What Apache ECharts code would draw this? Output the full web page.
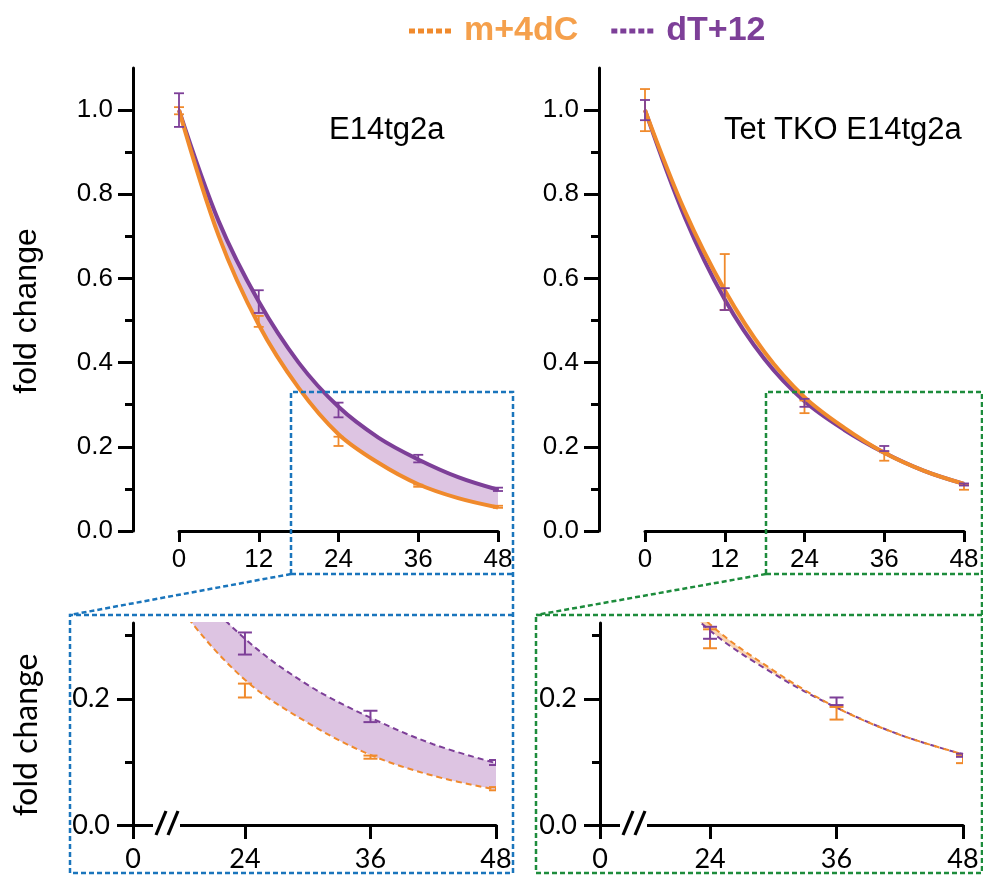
<!DOCTYPE html>
<html>
<head>
<meta charset="utf-8">
<title>fold change</title>
<script src="https://cdn.jsdelivr.net/npm/echarts@6/dist/echarts.min.js"></script>
<style>
    html, body { margin: 0; padding: 0; background: #fff; }
    #chart { width: 983px; height: 875px; }
</style>
</head>
<body>
<div id="chart"></div>
<script>
// ============================================
// Data
// ============================================
const hours = [0, 12, 24, 36, 48];
const curveHours = [0, 6, 12, 18, 24, 30, 36, 42, 48];

// E14tg2a
const wtMdcLow = [0.99, 0.485, 0.202, 0.105, 0.055];
const wtMdcHigh = [1.007, 0.511, 0.224, 0.110, 0.060];
const wtDtLow = [0.96, 0.518, 0.270, 0.163, 0.095];
const wtDtHigh = [1.04, 0.572, 0.305, 0.181, 0.103];
const wtMdcCurve = [1.0, 0.70, 0.49, 0.34, 0.23, 0.162, 0.111, 0.078, 0.056];
const wtDtCurve = [1.0, 0.735, 0.545, 0.40, 0.295, 0.222, 0.170, 0.128, 0.098];

// Tet TKO E14tg2a
const tkoMdcLow = [0.95, 0.525, 0.280, 0.167, 0.098];
const tkoMdcHigh = [1.05, 0.658, 0.310, 0.187, 0.111];
const tkoDtLow = [0.976, 0.525, 0.295, 0.190, 0.108];
const tkoDtHigh = [1.024, 0.577, 0.314, 0.202, 0.113];
const tkoMdcCurve = [1.0, 0.76, 0.572, 0.425, 0.318, 0.245, 0.186, 0.143, 0.112];
const tkoDtCurve = [1.0, 0.745, 0.55, 0.408, 0.308, 0.240, 0.186, 0.143, 0.112];

// Axis ticks
const fullXTicks = [0, 12, 24, 36, 48];
const fullYMajor = [0, 0.2, 0.4, 0.6, 0.8, 1.0];
const fullYMinor = [0.1, 0.3, 0.5, 0.7, 0.9];
const zoomXTicks = [24, 36, 48];
const zoomYMajor = [0, 0.2];
const zoomYMinor = [0.1, 0.3];

const seriesNames = ['m+4dC', 'dT+12'];

// ============================================
// Style
// ============================================
const ORANGE = '#f08a2c';
const ORANGE_TEXT = '#f5a04c';
const PURPLE = '#7d3f98';
const LAVENDER = '#ddc4e2';
const PEACH = '#f9d3b0';
const BLUE = '#1a75bc';
const GREEN = '#1d8c3c';
const SANS = '"Liberation Sans", Arial, sans-serif';
const ZOOM_FONT = 'Lato, "Open Sans", sans-serif';

// panel geometry
const topGrids = [{ left: 179 }, { left: 645 }];
const bottomGrids = [{ left: 133, zoomMin: 13.3 }, { left: 600, zoomMin: 13.56 }];

// ============================================
// Helpers
// ============================================
const pairs = (xs, ys) => xs.map((x, i) => [x, ys[i]]);
const bars = (lo, hi) => hours.map((h, i) => [h, lo[i], hi[i]]);

function errorBar(capHalf, color, width) {
    return function (params, api) {
        const x = api.value(0);
        const lo = api.coord([x, api.value(1)]);
        const hi = api.coord([x, api.value(2)]);
        const style = { stroke: color, lineWidth: width };
        return {
            type: 'group',
            children: [
                { type: 'line', shape: { x1: lo[0], y1: lo[1], x2: hi[0], y2: hi[1] }, style },
                { type: 'line', shape: { x1: lo[0] - capHalf, y1: lo[1], x2: lo[0] + capHalf, y2: lo[1] }, style },
                { type: 'line', shape: { x1: hi[0] - capHalf, y1: hi[1], x2: hi[0] + capHalf, y2: hi[1] }, style }
            ]
        };
    };
}

const axisLine = { show: true, onZero: false, lineStyle: { color: '#000', width: 3 } };
const noLine = { show: false, onZero: false };

function panelSeries(g, mdcCurve, dtCurve, mdcBar, dtBar, fill, zoomed) {
    // band between the two fits: stacked on y (data given as [y, x] so y is the stacked dim)
    const lower = curveHours.map((h, i) => [Math.min(mdcCurve[i], dtCurve[i]), h]);
    const diff = curveHours.map((h, i) => [Math.abs(mdcCurve[i] - dtCurve[i]), h]);
    const common = { xAxisIndex: g, yAxisIndex: 2 * g, symbol: 'none', smooth: 0.35, animation: false };
    const lineStyle = zoomed
        ? { width: 2, type: [6, 4] }
        : { width: 4 };
    const cap = zoomed ? 7 : 5;
    const barWidth = zoomed ? 2 : 1.8;
    return [
        { ...common, type: 'line', stack: 'band' + g, data: lower, encode: { x: 1, y: 0 },
          lineStyle: { opacity: 0 }, silent: true },
        { ...common, type: 'line', stack: 'band' + g, data: diff, encode: { x: 1, y: 0 },
          lineStyle: { opacity: 0 }, areaStyle: { color: fill, opacity: 1 }, silent: true },
        { ...common, type: 'line', name: seriesNames[1], data: pairs(curveHours, dtCurve),
          itemStyle: { color: PURPLE }, lineStyle: { ...lineStyle, color: PURPLE } },
        { ...common, type: 'line', name: seriesNames[0], data: pairs(curveHours, mdcCurve),
          itemStyle: { color: ORANGE }, lineStyle: { ...lineStyle, color: ORANGE } },
        { type: 'custom', xAxisIndex: g, yAxisIndex: 2 * g, clip: zoomed, animation: false,
          renderItem: errorBar(cap, ORANGE, barWidth), data: mdcBar, encode: { x: 0, y: [1, 2] }, z: 5 },
        { type: 'custom', xAxisIndex: g, yAxisIndex: 2 * g, clip: zoomed, animation: false,
          renderItem: errorBar(cap, PURPLE, barWidth), data: dtBar, encode: { x: 0, y: [1, 2] }, z: 5 }
    ];
}

// ============================================
// Grids & axes
// ============================================
const grid = [
    { left: topGrids[0].left, top: 68, width: 319, height: 463 },
    { left: topGrids[1].left, top: 68, width: 319, height: 463 },
    { left: bottomGrids[0].left, top: 623, width: 363, height: 202 },
    { left: bottomGrids[1].left, top: 623, width: 363, height: 202 }
];

const xAxis = [0, 1].map(g => ({
    type: 'value', gridIndex: g, min: 0, max: 48, interval: 12,
    axisLine, splitLine: { show: false },
    axisTick: { length: 11, lineStyle: { width: 3, color: '#000' }, customValues: fullXTicks },
    axisLabel: { customValues: fullXTicks, color: '#000', fontFamily: SANS, fontSize: 26, margin: 16 }
})).concat(bottomGrids.map((b, i) => ({
    type: 'value', gridIndex: 2 + i, min: b.zoomMin, max: 48,
    axisLine, splitLine: { show: false },
    axisTick: { length: 14, lineStyle: { width: 3, color: '#000' }, customValues: [b.zoomMin].concat(zoomXTicks) },
    axisLabel: {
        customValues: [b.zoomMin].concat(zoomXTicks),
        formatter: v => (v === b.zoomMin ? '0' : String(v)),
        color: '#000', fontFamily: ZOOM_FONT, fontSize: 27, margin: 21
    }
})));

const yAxis = [];
[0, 1].forEach(g => {
    yAxis.push({
        type: 'value', gridIndex: g, position: 'left', min: 0, max: 1.1, offset: 46,
        axisLine, splitLine: { show: false },
        axisTick: { length: 15, lineStyle: { width: 3, color: '#000' }, customValues: fullYMajor },
        axisLabel: { customValues: fullYMajor, formatter: v => v.toFixed(1), color: '#000',
                     fontFamily: SANS, fontSize: 26, margin: 20 }
    });
    yAxis.push({
        type: 'value', gridIndex: g, position: 'left', min: 0, max: 1.1, offset: 46,
        axisLine: noLine, splitLine: { show: false }, axisLabel: { show: false },
        axisTick: { length: 8, lineStyle: { width: 3, color: '#000' }, customValues: fullYMinor }
    });
});
[2, 3].forEach(g => {
    yAxis.push({
        type: 'value', gridIndex: g, position: 'left', min: 0, max: 0.32,
        axisLine, splitLine: { show: false },
        axisTick: { length: 16, lineStyle: { width: 3, color: '#000' }, customValues: zoomYMajor },
        axisLabel: { customValues: zoomYMajor, formatter: v => v.toFixed(1), color: '#000',
                     fontFamily: ZOOM_FONT, fontSize: 27, margin: 23 }
    });
    yAxis.push({
        type: 'value', gridIndex: g, position: 'left', min: 0, max: 0.32,
        axisLine: noLine, splitLine: { show: false }, axisLabel: { show: false },
        axisTick: { length: 8, lineStyle: { width: 3, color: '#000' }, customValues: zoomYMinor }
    });
});

const series = [].concat(
    panelSeries(0, wtMdcCurve, wtDtCurve, bars(wtMdcLow, wtMdcHigh), bars(wtDtLow, wtDtHigh), LAVENDER, false),
    panelSeries(1, tkoMdcCurve, tkoDtCurve, bars(tkoMdcLow, tkoMdcHigh), bars(tkoDtLow, tkoDtHigh), PEACH, false),
    panelSeries(2, wtMdcCurve, wtDtCurve, bars(wtMdcLow, wtMdcHigh), bars(wtDtLow, wtDtHigh), LAVENDER, true),
    panelSeries(3, tkoMdcCurve, tkoDtCurve, bars(tkoMdcLow, tkoMdcHigh), bars(tkoDtLow, tkoDtHigh), PEACH, true)
);

// ============================================
// Decorations: zoom boxes, axis breaks, labels
// ============================================
const dashed = color => ({ stroke: color, lineWidth: 2.5, lineDash: [5, 3], fill: null });

function zoomBox(color, x1, x2, lx1, lx2) {
    // small box on the full panel, big box around the zoom panel, connector
    return [
        { type: 'polyline', shape: { points: [[x1, 574], [x1, 392], [x2, 392], [x2, 873], [lx1, 873], [lx1, 615], [lx2, 615]] }, style: dashed(color), z: 10 },
        { type: 'line', shape: { x1: x1, y1: 574, x2: x2, y2: 574 }, style: dashed(color), z: 10 },
        { type: 'line', shape: { x1: x1, y1: 574, x2: lx1, y2: 615 }, style: dashed(color), z: 10 }
    ];
}

function axisBreak(left) {
    const y = 825;
    const s = { stroke: '#000', lineWidth: 3.2 };
    return [
        { type: 'rect', shape: { x: left + 20, y: y - 4, width: 27, height: 8 }, style: { fill: '#fff' }, z: 20 },
        { type: 'line', shape: { x1: left + 23, y1: y + 10, x2: left + 33, y2: y - 14 }, style: s, z: 21 },
        { type: 'line', shape: { x1: left + 35, y1: y + 10, x2: left + 45, y2: y - 14 }, style: s, z: 21 }
    ];
}

function rotatedLabel(x, y, font, size) {
    return {
        type: 'text', x, y, rotation: Math.PI / 2,
        style: { text: 'fold change', font: `${size}px ${font}`, fill: '#000', align: 'center', verticalAlign: 'middle' },
        z: 10
    };
}

const graphic = [].concat(
    zoomBox(BLUE, 291, 513, 70, 513),
    zoomBox(GREEN, 766, 982, 536, 982),
    axisBreak(bottomGrids[0].left),
    axisBreak(bottomGrids[1].left),
    [rotatedLabel(27, 311, SANS, 32), rotatedLabel(27, 735, ZOOM_FONT, 32)]
);

const dashIcon = 'path://M0,0h6v5h-6z M9,0h6v5h-6z M18,0h6v5h-6z M27,0h6v5h-6z M36,0h6v5h-6z';

const option = {
    animation: false,
    backgroundColor: '#fff',
    title: [
        { text: 'E14tg2a', left: 324, top: 110, textStyle: { fontFamily: SANS, fontSize: 31, fontWeight: 'normal', color: '#000' } },
        { text: 'Tet TKO E14tg2a', left: 719, top: 110, textStyle: { fontFamily: SANS, fontSize: 31, fontWeight: 'normal', color: '#000' } }
    ],
    legend: {
        left: 404, top: 9,
        itemWidth: 42, itemHeight: 5, itemGap: 33,
        selectedMode: false,
        textStyle: { fontFamily: SANS, fontSize: 34, fontWeight: 'bold', padding: [0, 0, 0, 8] },
        data: [
            { name: seriesNames[0], icon: dashIcon, itemStyle: { color: ORANGE }, textStyle: { color: ORANGE_TEXT } },
            { name: seriesNames[1], icon: dashIcon, itemStyle: { color: PURPLE }, textStyle: { color: PURPLE } }
        ]
    },
    grid, xAxis, yAxis, series, graphic
};

const chart = echarts.init(document.getElementById('chart'), null, { renderer: 'canvas' });
chart.setOption(option);
window.addEventListener('resize', () => chart.resize());
</script>
</body>
</html>
